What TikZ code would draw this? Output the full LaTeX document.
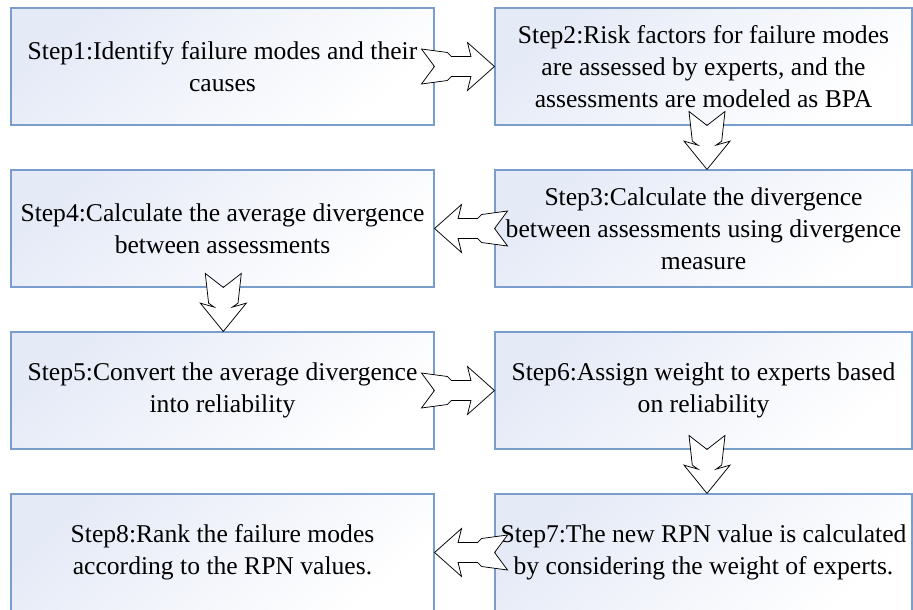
\documentclass[tikz,border=0pt]{standalone}
\usepackage{fontspec}
\setmainfont{Liberation Serif}
\usetikzlibrary{positioning}
\definecolor{boxline}{RGB}{122,158,204}
\definecolor{boxfill}{RGB}{229,234,247}
\tikzset{
    stepbox/.style={rectangle, draw=boxline, line width=1.1pt, top color=boxfill, bottom color=white, shading angle=40, minimum height=117pt, inner sep=0pt, text centered, align=center, font=\fontsize{25.6}{32}\selectfont},
    leftbox/.style={stepbox, minimum width=423pt},
    rightbox/.style={stepbox, minimum width=417pt},
    blockarrow/.style={draw=black, fill=white, line width=0.75pt, line join=miter},
    sidearrow/.pic={
        \draw[blockarrow] (-73pt,17.5pt) -- (-47pt,14pt) -- (-43pt,10pt) -- (-23.5pt,10pt) -- (-27pt,24pt) -- (0,0)
            -- (-27pt,-24pt) -- (-23.5pt,-10pt) -- (-43pt,-10pt) -- (-47pt,-14pt) -- (-73pt,-17.5pt) -- (-60pt,0) -- cycle;
    },
    downarrow/.pic={
        \draw[blockarrow] (-58pt,18pt) -- (-28.3pt,14.7pt) -- (-24.3pt,9pt) -- (-28.3pt,23pt) -- (0,0)
            -- (-28.3pt,-23pt) -- (-24.3pt,-9pt) -- (-28.3pt,-14.7pt) -- (-58pt,-18pt) -- (-44pt,0) -- cycle;
    }
}
\begin{document}
\begin{tikzpicture}[node distance=162pt]
        \useasboundingbox (0,0) rectangle (913pt,-610pt);
        % Steps
        \node (s1) [leftbox] at (222.5pt,-66.5pt) {Step1:Identify failure modes and their\\causes};
        \node (s2) [rightbox, right of=s1, xshift=319pt] {Step2:Risk factors for failure modes\\are assessed by experts, and the\\assessments are modeled as BPA};
        \node (s3) [rightbox, below of=s2] {Step3:Calculate the divergence\\between assessments using divergence\\measure};
        \node (s4) [leftbox, below of=s1] {Step4:Calculate the average divergence\\between assessments};
        \node (s5) [leftbox, below of=s4] {Step5:Convert the average divergence\\into reliability};
        \node (s6) [rightbox, below of=s3] {Step6:Assign weight to experts based\\on reliability};
        \node (s7) [rightbox, below of=s6] {Step7:The new RPN value is calculated\\by considering the weight of experts.};
        \node (s8) [leftbox, below of=s5] {Step8:Rank the failure modes\\according to the RPN values.};

        % Block arrows
        \pic at (s2.west) {sidearrow};
        \pic[rotate=-90] at ([xshift=3.5pt]s3.north) {downarrow};
        \pic[rotate=180] at (s4.east) {sidearrow};
        \pic[rotate=-90] at ([xshift=0.8pt]s5.north) {downarrow};
        \pic at (s6.west) {sidearrow};
        \pic[rotate=-90] at ([xshift=3.5pt]s7.north) {downarrow};
        \pic[rotate=180] at (s8.east) {sidearrow};
    \end{tikzpicture}
\end{document}
